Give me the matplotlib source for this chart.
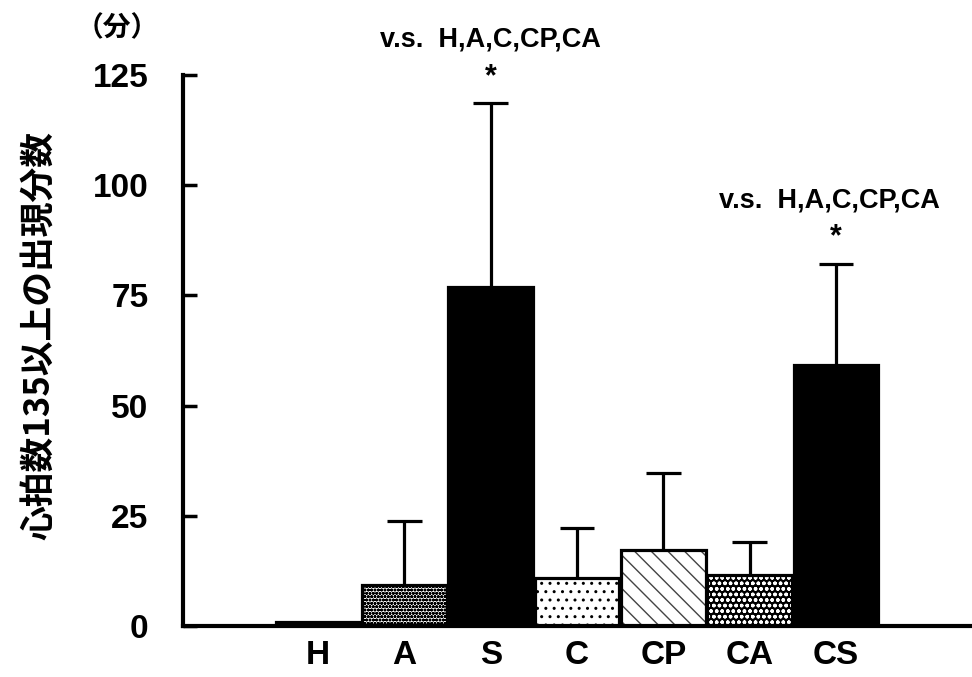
import matplotlib
matplotlib.use("Agg")
import matplotlib.pyplot as plt
import numpy as np

categories = ["H", "A", "S", "C", "CP", "CA", "CS"]
means = [1.0, 9.2, 76.8, 10.8, 17.2, 11.5, 59.3]
err_upper = [0.0, 14.6, 41.8, 11.4, 17.6, 7.5, 22.8]
yticks = [0, 25, 50, 75, 100, 125]
ylabel = "心拍数135以上の出現分数"
unit_label = "（分）"
sig_text = "v.s.  H,A,C,CP,CA"
sig_groups = ["S", "CS"]

faces = ["black", "white", "black", "white", "white", "black", "black"]
hatches = [None, "ooooo", None, "..", "\\\\", "ooo", None]
hatch_cols = ["black", "black", "black", "black", "#444444", "white", "black"]

plt.rcParams["hatch.linewidth"] = 1.0
latin = ["Liberation Sans", "DejaVu Sans"]
cjk = ["Noto Sans CJK JP", "DejaVu Sans"]

fig = plt.figure(figsize=(9.72, 6.77), dpi=100)
ax = fig.add_axes([183/972, 51/677, 1 - 183/972, (626-75)/677])

x = np.arange(len(categories))
# hatch layer
ax.bar(x, means, width=0.98, color=faces, edgecolor=hatch_cols, hatch=hatches, linewidth=0, zorder=2)
# outline layer
ax.bar(x, means, width=0.98, color="none", edgecolor="black", linewidth=2.3, zorder=3)

# upper error bars
for xi, m, e in zip(x, means, err_upper):
    if e > 0:
        ax.vlines(xi, m, m + e, color="black", linewidth=2.3, zorder=1)
        ax.hlines(m + e, xi - 0.2, xi + 0.2, color="black", linewidth=2.3, zorder=1)

ax.set_xlim(-1.564, 7.576)
ax.set_ylim(0, 125)
ax.set_yticks(yticks)
ax.set_yticklabels([str(t) for t in yticks], family=latin, fontweight="bold", fontsize=24)
ax.set_xticks(x)
ax.set_xticklabels(categories, family=latin, fontweight="bold", fontsize=24)
ax.tick_params(axis="y", direction="in", length=10, width=2.5, pad=25)
ax.tick_params(axis="x", length=0, pad=10)
for s in ["top", "right"]:
    ax.spines[s].set_visible(False)
ax.spines["left"].set_linewidth(3)
ax.spines["bottom"].set_linewidth(3)

for g in sig_groups:
    i = categories.index(g)
    top = means[i] + err_upper[i]
    ax.text(x[i], top + 2.6, "*", ha="center", va="bottom", family=latin,
            fontweight="bold", fontsize=22, clip_on=False)
    ax.text(x[i] - (0.07 if g == "CS" else 0), top + 11.5, sig_text, ha="center", va="bottom",
            family=latin, fontweight="bold", fontsize=19.5, clip_on=False)

fig.text(117/972, 1 - 28/677, unit_label, ha="center", va="center", family=cjk,
         fontweight="bold", fontsize=20)
fig.text(40/972, 1 - 335/677, ylabel, ha="center", va="center", rotation=90,
         family=cjk, fontweight="bold", fontsize=25)

fig.savefig("out.png", dpi=100)
